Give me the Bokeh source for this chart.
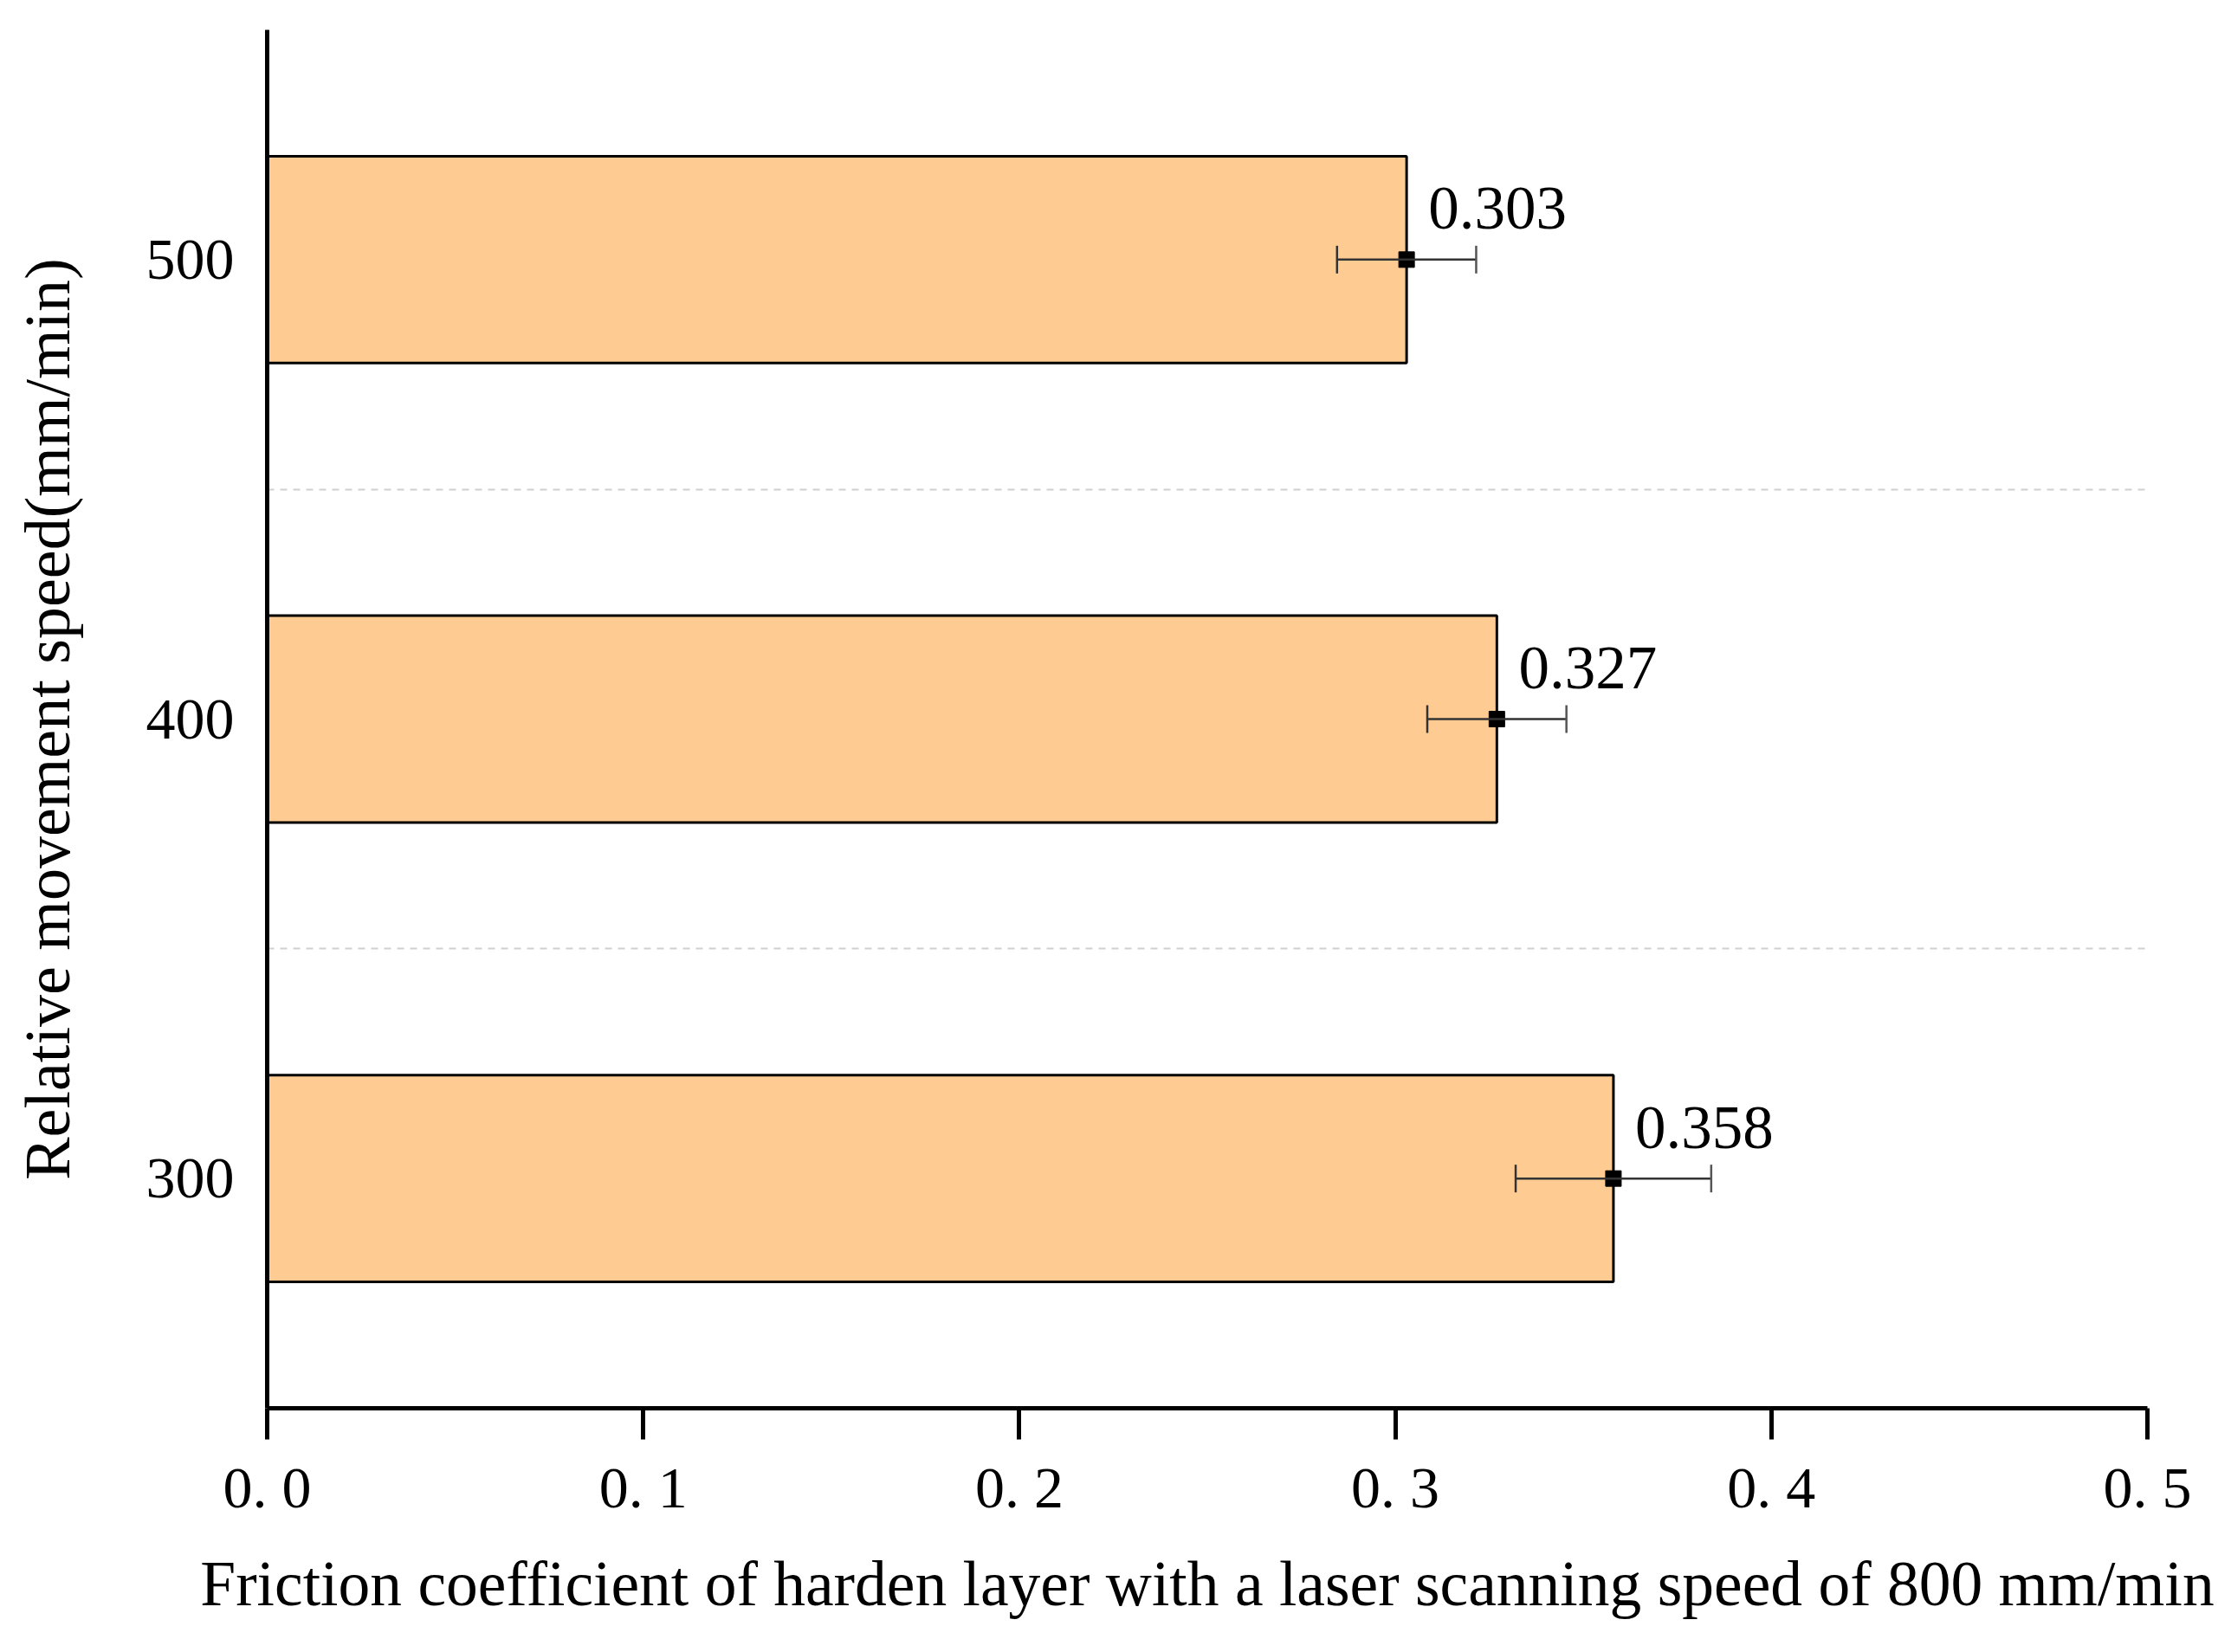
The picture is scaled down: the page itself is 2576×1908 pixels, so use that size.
from bokeh.plotting import figure
from bokeh.models import ColumnDataSource, FixedTicker, Whisker, TeeHead, Range1d
from bokeh.core.properties import value
from bokeh.embed import file_html
from bokeh.resources import INLINE

# ---- data ----
speeds = [300, 400, 500]
friction = [0.358, 0.327, 0.303]
errors = [0.026, 0.0185, 0.0185]
value_labels = ["0.358", "0.327", "0.303"]
x_ticks = [0.0, 0.1, 0.2, 0.3, 0.4, 0.5]
x_tick_labels = ["0. 0", "0. 1", "0. 2", "0. 3", "0. 4", "0. 5"]
y_tick_labels = ["300", "400", "500"]
x_title = "Friction coefficient of harden layer with a laser scanning speed of 800 mm/min"
y_title = "Relative movement speed(mm/min)"

FONT = "Liberation Serif"

src = ColumnDataSource(dict(
    y=speeds, x=friction,
    lower=[f - e for f, e in zip(friction, errors)],
    upper=[f + e for f, e in zip(friction, errors)],
    lab=value_labels,
))

p = figure(width=2560, height=1892, output_backend="svg", toolbar_location=None,
           x_range=Range1d(0, 0.5), y_range=Range1d(250, 550),
           min_border_left=308, min_border_right=81, min_border_top=34, min_border_bottom=266)
p.outline_line_color = None
p.background_fill_color = "white"

# bars
p.hbar(y="y", right="x", left=0, height=45, source=src,
       fill_color="#FECC93", line_color="black", line_width=3)

# error bars
wh = Whisker(base="y", lower="lower", upper="upper", dimension="width", source=src,
             line_color="#333333", line_width=2.5, level="overlay",
             lower_head=TeeHead(size=32, line_color="#333333", line_width=2.5),
             upper_head=TeeHead(size=32, line_color="#555555", line_width=2.5))
p.add_layout(wh)

p.scatter(x="x", y="y", source=src, marker="square", size=18, color="black")

p.text(x="x", y="y", text="lab", source=src, x_offset=105, y_offset=-59,
       text_align="center", text_baseline="middle",
       text_font=value(FONT), text_font_size="71px", text_color="black")

# x axis
xa = p.xaxis[0]
xa.ticker = FixedTicker(ticks=x_ticks)
xa.major_label_overrides = {t: l for t, l in zip(x_ticks, x_tick_labels)}
xa.axis_line_width = 5
xa.axis_line_color = "black"
xa.major_tick_line_width = 5
xa.major_tick_line_color = "black"
xa.major_tick_out = 36
xa.major_tick_in = 0
xa.minor_tick_line_color = None
xa.major_label_text_font = FONT
xa.major_label_text_font_size = "68px"
xa.major_label_text_color = "black"
xa.major_label_standoff = 17
xa.axis_label = x_title
xa.axis_label_text_font = FONT
xa.axis_label_text_font_style = "normal"
xa.axis_label_text_font_size = "73.5px"
xa.axis_label_text_color = "black"
xa.axis_label_standoff = 30

# y axis
ya = p.yaxis[0]
ya.ticker = FixedTicker(ticks=speeds)
ya.major_label_overrides = {s: l for s, l in zip(speeds, y_tick_labels)}
ya.axis_line_width = 5
ya.axis_line_color = "black"
ya.major_tick_line_color = None
ya.major_tick_out = 0
ya.minor_tick_line_color = None
ya.major_label_text_font = FONT
ya.major_label_text_font_size = "68px"
ya.major_label_text_color = "black"
ya.major_label_standoff = 38
ya.axis_label = y_title
ya.axis_label_text_font = FONT
ya.axis_label_text_font_style = "normal"
ya.axis_label_text_font_size = "74px"
ya.axis_label_text_color = "black"
ya.axis_label_standoff = 70

# grids
p.xgrid.grid_line_color = None
p.ygrid.ticker = FixedTicker(ticks=[350, 450])
p.ygrid.grid_line_color = "#d0d0d0"
p.ygrid.grid_line_width = 2
p.ygrid.grid_line_dash = "8 7"

open("out.html", "w").write(file_html(p, INLINE))
